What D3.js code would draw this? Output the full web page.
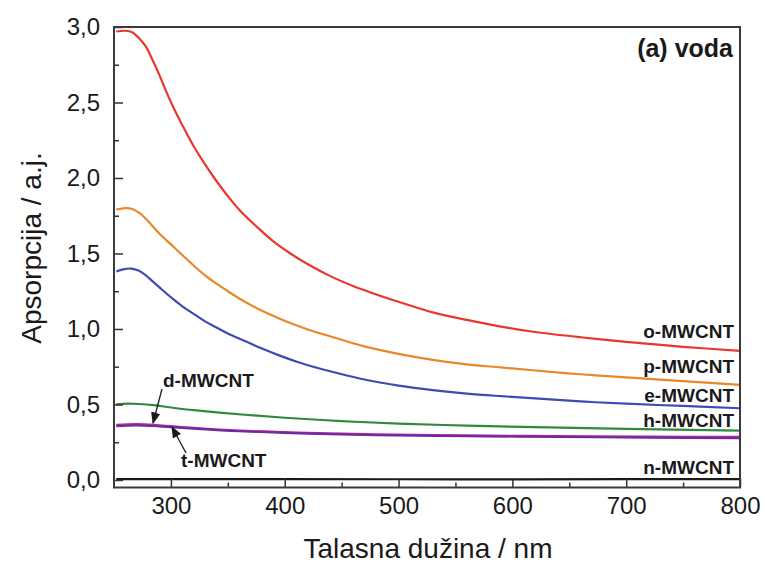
<!DOCTYPE html>
<html><head><meta charset="utf-8">
<script src="https://cdn.jsdelivr.net/npm/d3@7"></script>
<style>body{margin:0;background:#fff}svg{display:block}text{font-family:"Liberation Sans",Arial,sans-serif}</style>
</head><body>
<svg id="c" width="765" height="569"></svg>
<script>
const xTicks = [300, 400, 500, 600, 700, 800];
const yTicks = [0, 0.5, 1.0, 1.5, 2.0, 2.5, 3.0];
const oMW = [[252,2.97],[260,2.975],[266,2.965],[272,2.925],[278,2.87],[284,2.78],[290,2.68],[296,2.57],[302,2.47],[310,2.35],[320,2.21],[330,2.09],[340,1.98],[350,1.88],[360,1.79],[375,1.68],[390,1.58],[405,1.5],[420,1.43],[440,1.35],[460,1.285],[480,1.23],[500,1.18],[530,1.11],[560,1.06],[590,1.015],[620,0.98],[660,0.945],[700,0.915],[750,0.882],[800,0.855]];
const pMW = [[252,1.79],[260,1.8],[266,1.795],[272,1.77],[278,1.73],[284,1.68],[290,1.63],[300,1.56],[310,1.49],[320,1.42],[330,1.355],[340,1.3],[350,1.25],[365,1.18],[380,1.12],[395,1.07],[410,1.025],[425,0.985],[445,0.94],[470,0.885],[500,0.835],[530,0.795],[560,0.765],[590,0.745],[620,0.725],[660,0.7],[700,0.68],[750,0.655],[800,0.63]];
const eMW = [[252,1.38],[258,1.395],[265,1.4],[272,1.385],[278,1.355],[284,1.315],[290,1.275],[300,1.21],[310,1.15],[320,1.1],[330,1.05],[340,1.01],[350,0.97],[365,0.92],[380,0.87],[395,0.825],[410,0.785],[425,0.75],[445,0.71],[470,0.665],[500,0.625],[530,0.595],[560,0.572],[590,0.555],[620,0.54],[660,0.52],[700,0.505],[750,0.49],[800,0.475]];
const hMW = [[252,0.5],[262,0.505],[272,0.503],[285,0.495],[300,0.48],[320,0.462],[340,0.448],[365,0.432],[400,0.412],[450,0.39],[500,0.373],[560,0.36],[620,0.35],[700,0.338],[800,0.327]];
const dMW = [[252,0.365],[270,0.37],[290,0.362],[320,0.345],[360,0.327],[420,0.312],[480,0.302],[560,0.295],[640,0.29],[720,0.287],[800,0.285]];
const tMW = [[252,0.357],[270,0.362],[290,0.355],[320,0.34],[360,0.323],[420,0.307],[480,0.297],[560,0.29],[640,0.285],[720,0.28],[800,0.277]];
const nMW = [[252,0.005],[400,0.006],[550,0.004],[700,0.005],[800,0.005]];
const seriesNames = ["o-MWCNT","p-MWCNT","e-MWCNT","h-MWCNT","d-MWCNT","t-MWCNT","n-MWCNT"];
const seriesData = [oMW, pMW, eMW, hMW, dMW, tMW, nMW];
const seriesColors = ["#e8372c","#e8882a","#3d4bb3","#2f8a3c","#c2259e","#6b2d9e","#1a1a1a"];

const svg = d3.select("#c");
const x = d3.scaleLinear().domain([250, 800]).range([114, 740]);
const y = d3.scaleLinear().domain([-0.05, 3.0]).range([487.5, 27]);
const fmt = v => d3.format(".1f")(v).replace(".", ",");

// curves
const line = d3.line().x(d => x(d[0])).y(d => y(d[1])).curve(d3.curveCatmullRom.alpha(0.5));
seriesData.forEach((s, i) => {
  svg.append("path").attr("d", line(s)).attr("fill", "none")
    .attr("stroke", seriesColors[i]).attr("stroke-width", 2.2);
});

// axes
const gx = svg.append("g").attr("transform", `translate(0,${y.range()[0]})`)
  .call(d3.axisBottom(x).tickValues(xTicks).tickSize(-9).tickPadding(9).tickFormat(d3.format("d")));
const gxm = svg.append("g").attr("transform", `translate(0,${y.range()[0]})`)
  .call(d3.axisBottom(x).tickValues([350,450,550,650,750]).tickSize(-5).tickFormat(""));
const gy = svg.append("g").attr("transform", `translate(${x.range()[0]},0)`)
  .call(d3.axisLeft(y).tickValues(yTicks).tickSize(-9).tickPadding(14).tickFormat(fmt));
const gym = svg.append("g").attr("transform", `translate(${x.range()[0]},0)`)
  .call(d3.axisLeft(y).tickValues([0.25,0.75,1.25,1.75,2.25,2.75]).tickSize(-5).tickFormat(""));
[gx, gxm, gy, gym].forEach(g => {
  g.select(".domain").remove();
  g.selectAll(".tick line").attr("stroke", "#333").attr("stroke-width", 1.5);
  g.selectAll("text").attr("fill", "#1a1a1a").style("font-size", "24px");
});
gx.selectAll("text").attr("dy", "0.71em");

// frame
svg.append("rect").attr("x", x.range()[0]).attr("y", y.range()[1])
  .attr("width", x.range()[1] - x.range()[0]).attr("height", y.range()[0] - y.range()[1])
  .attr("fill", "none").attr("stroke", "#3a3a3a").attr("stroke-width", 2);

// titles
svg.append("text").attr("x", 428).attr("y", 558).attr("text-anchor", "middle")
  .style("font-size", "28px").attr("fill", "#1a1a1a").text("Talasna dužina / nm");
svg.append("text").attr("transform", "translate(41,248) rotate(-90)").attr("text-anchor", "middle")
  .style("font-size", "28px").attr("fill", "#1a1a1a").text("Apsorpcija / a.j.");
svg.append("text").attr("x", 733).attr("y", 57).attr("text-anchor", "end")
  .style("font-size", "25px").style("font-weight", "bold").attr("fill", "#1a1a1a").text("(a) voda");

// series labels
const rightLabels = [["o-MWCNT", 338], ["p-MWCNT", 373], ["e-MWCNT", 402], ["h-MWCNT", 427], ["n-MWCNT", 474]];
rightLabels.forEach(([t, yy]) => {
  svg.append("text").attr("x", 734).attr("y", yy).attr("text-anchor", "end")
    .style("font-size", "19px").style("font-weight", "bold").attr("fill", "#1a1a1a").text(t);
});
svg.append("text").attr("x", 163).attr("y", 387).style("font-size", "19px").style("font-weight", "bold").attr("fill", "#1a1a1a").text("d-MWCNT");
svg.append("text").attr("x", 181).attr("y", 467).style("font-size", "19px").style("font-weight", "bold").attr("fill", "#1a1a1a").text("t-MWCNT");

// arrows
const defs = svg.append("defs");
defs.append("marker").attr("id", "ah").attr("viewBox", "0 0 10 10").attr("refX", 9).attr("refY", 5)
  .attr("markerWidth", 9).attr("markerHeight", 9).attr("orient", "auto")
  .append("path").attr("d", "M0,1 L10,5 L0,9 Z").attr("fill", "#1a1a1a");
svg.append("line").attr("x1", 162).attr("y1", 389).attr("x2", 153).attr("y2", 423)
  .attr("stroke", "#1a1a1a").attr("stroke-width", 1.3).attr("marker-end", "url(#ah)");
svg.append("line").attr("x1", 186).attr("y1", 453).attr("x2", 172).attr("y2", 427)
  .attr("stroke", "#1a1a1a").attr("stroke-width", 1.3).attr("marker-end", "url(#ah)");
</script>
</body></html>
